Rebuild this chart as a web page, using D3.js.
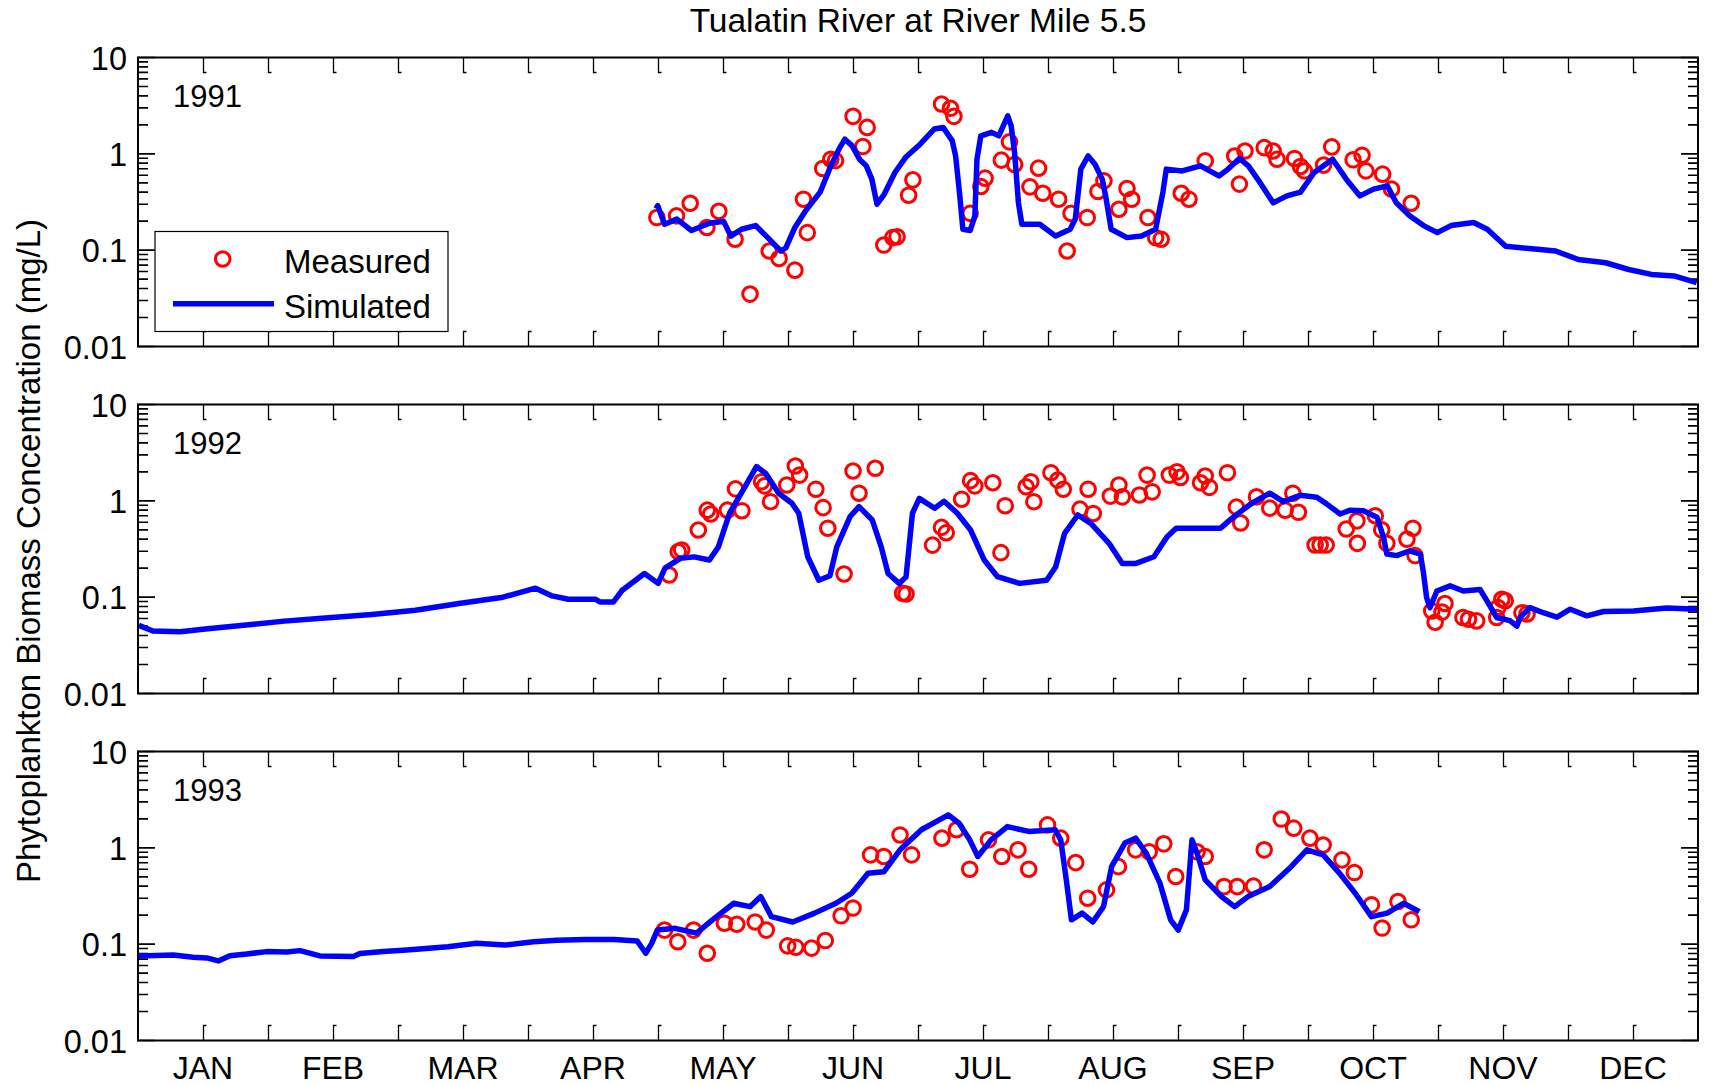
<!DOCTYPE html>
<html>
<head>
<meta charset="utf-8">
<title>Tualatin River at River Mile 5.5</title>
<script src="https://cdn.jsdelivr.net/npm/d3@7"></script>
<style>
  html, body { margin: 0; padding: 0; background: #fff; }
  svg text { font-family: "Liberation Sans", Arial, Helvetica, sans-serif; fill: #000; }
</style>
</head>
<body>
<svg id="chart" width="1714" height="1085"></svg>
<script>
// ---- Data -------------------------------------------------------------
// x values are day of year (0 = Jan 1), y values are phytoplankton biomass in mg/L.

const chartTitle = "Tualatin River at River Mile 5.5";
const yAxisTitle = "Phytoplankton Biomass Concentration (mg/L)";
const monthLabels = ["JAN", "FEB", "MAR", "APR", "MAY", "JUN", "JUL", "AUG", "SEP", "OCT", "NOV", "DEC"];
const yTickValues = [0.01, 0.1, 1, 10];
const yTickLabels = ["0.01", "0.1", "1", "10"];
const yearLabels = ["1991", "1992", "1993"];
const legendLabels = ["Measured", "Simulated"];

const measured1991 = [
  [121.4,0.218],[126.0,0.227],[129.2,0.307],[133.1,0.172],[135.9,0.253],[139.7,0.130],[143.2,0.035],
  [147.7,0.098],[150.0,0.082],[153.7,0.062],[155.7,0.338],[156.6,0.152],[160.2,0.705],[162.1,0.88],
  [163.2,0.85],[167.3,2.45],[170.6,1.88],[169.6,1.19],[174.5,0.113],[176.6,0.135],[177.6,0.138],
  [180.3,0.372],[181.3,0.537],[188.0,3.29],[190.1,2.97],[190.9,2.45],[194.7,0.241],[197.2,0.458],
  [198.2,0.559],[202.0,0.86],[203.9,1.33],[205.1,0.776],[208.7,0.454],[210.7,0.71],[211.7,0.39],
  [215.4,0.338],[217.4,0.098],[218.3,0.241],[222.1,0.218],[224.6,0.407],[226.0,0.524],[229.5,0.266],
  [231.4,0.436],[232.5,0.338],[236.3,0.218],[238.1,0.135],[239.4,0.130],[244.1,0.39],[245.9,0.338],
  [249.7,0.845],[256.6,0.95],[259.0,1.07],[257.7,0.485],[263.5,1.16],[265.6,1.07],[266.5,0.88],
  [270.6,0.895],[272.0,0.74],[272.9,0.665],[277.4,0.764],[279.3,1.18],[284.3,0.867],[286.4,0.968],
  [287.3,0.665],[291.2,0.615],[293.3,0.43],[297.9,0.307]
];

const simulated1991 = [
  [121.2,0.27],[121.6,0.29],[123.2,0.186],[126.1,0.21],[129.5,0.16],[133.7,0.19],[137.0,0.20],
  [138.7,0.14],[141.2,0.165],[144.5,0.18],[147.0,0.14],[150.4,0.098],[151.6,0.106],[153.7,0.172],
  [156.2,0.256],[159.6,0.40],[162.1,0.75],[164.2,1.16],[165.4,1.42],[167.1,1.21],[168.8,0.88],
  [170.4,0.75],[171.7,0.546],[172.9,0.30],[174.6,0.38],[177.1,0.64],[179.6,0.92],[183.0,1.26],
  [186.3,1.81],[188.4,1.88],[190.5,1.37],[191.3,0.95],[192.2,0.40],[193.0,0.165],[194.7,0.16],
  [195.8,0.226],[196.3,0.88],[197.2,1.54],[199.7,1.67],[201.4,1.54],[203.5,2.48],[204.3,1.95],
  [205.1,1.03],[206.0,0.31],[206.8,0.186],[211.0,0.186],[214.7,0.14],[218.1,0.165],[219.3,0.21],
  [220.6,0.694],[222.3,0.95],[223.9,0.78],[225.6,0.546],[226.4,0.366],[227.7,0.165],[231.4,0.135],
  [234.8,0.14],[238.1,0.165],[239.8,0.40],[240.6,0.694],[244.3,0.665],[248.6,0.75],[252.9,0.59],
  [255.0,0.69],[257.7,0.895],[259.8,0.75],[262.5,0.505],[265.6,0.31],[268.8,0.366],[272.0,0.40],
  [275.2,0.64],[279.5,0.88],[282.7,0.546],[285.9,0.366],[289.1,0.43],[292.3,0.465],[294.4,0.31],
  [297.6,0.226],[300.8,0.18],[304.0,0.152],[307.2,0.18],[312.5,0.194],[315.7,0.165],[320.0,0.11],
  [327.4,0.102],[331.7,0.098],[337.0,0.080],[343.4,0.074],[348.8,0.063],[354.1,0.056],[359.4,0.054],
  [364.7,0.046]
];

const measured1992 = [
  [124.3,0.170],[126.4,0.297],[127.2,0.309],[131.1,0.498],[133.2,0.80],[134.0,0.73],[137.9,0.80],
  [139.8,1.33],[141.3,0.79],[145.9,1.58],[146.6,1.43],[148.0,0.98],[151.8,1.46],[153.8,2.30],
  [154.8,1.85],[158.6,1.32],[160.3,0.85],[161.4,0.52],[165.2,0.174],[167.3,2.04],[168.7,1.20],
  [172.5,2.18],[178.9,0.11],[179.7,0.108],[185.9,0.347],[188.0,0.53],[189.1,0.467],[192.7,1.04],
  [194.8,1.62],[195.8,1.43],[200.0,1.54],[201.9,0.29],[202.9,0.89],[207.8,1.40],[208.9,1.58],
  [209.6,0.98],[213.6,1.96],[215.2,1.64],[216.5,1.32],[220.4,0.82],[222.3,1.32],[223.5,0.74],
  [227.5,1.12],[229.5,1.46],[230.3,1.10],[234.3,1.15],[236.1,1.85],[237.3,1.24],[241.3,1.85],
  [243.1,2.0],[243.9,1.75],[248.6,1.54],[249.7,1.81],[250.7,1.38],[254.9,1.96],[257.0,0.86],
  [258.0,0.59],[261.7,1.10],[264.8,0.84],[268.4,0.80],[270.2,1.2],[271.5,0.76],[275.4,0.348],
  [276.6,0.348],[278.0,0.348],[282.7,0.51],[285.2,0.62],[285.3,0.362],[289.5,0.70],[291.0,0.50],
  [292.2,0.362],[296.9,0.40],[298.3,0.52],[298.8,0.27],[302.7,0.072],[303.5,0.055],[305.1,0.07],
  [305.8,0.086],[310.0,0.0615],[311.3,0.059],[313.2,0.0567],[317.9,0.0615],[318.2,0.078],
  [319.1,0.095],[319.9,0.092],[323.8,0.069],[325.0,0.067]
];

const simulated1992 = [
  [0.2,0.051],[3.5,0.0446],[9.9,0.0437],[16.3,0.047],[26.5,0.052],[34.2,0.0564],[44.5,0.061],
  [54.7,0.066],[64.9,0.073],[75.1,0.086],[85.4,0.10],[93.0,0.124],[96.9,0.103],[100.7,0.095],
  [107.1,0.095],[108.1,0.089],[111.2,0.089],[113.3,0.118],[118.5,0.176],[121.7,0.139],[123.3,0.20],
  [126.9,0.253],[130.1,0.262],[133.7,0.243],[135.8,0.333],[138.4,0.743],[141.6,1.30],[144.7,2.27],
  [146.8,1.94],[149.9,1.20],[153.0,0.944],[154.6,0.743],[156.7,0.263],[159.3,0.15],[161.9,0.167],
  [163.5,0.333],[166.6,0.686],[168.7,0.87],[171.8,0.632],[173.9,0.333],[175.5,0.176],[178.1,0.139],
  [179.7,0.162],[181.2,0.743],[182.8,1.06],[186.4,0.838],[188.6,0.99],[191.7,0.743],[194.8,0.498],
  [198.0,0.243],[201.1,0.163],[206.3,0.139],[212.6,0.15],[214.7,0.206],[216.8,0.46],[219.9,0.713],
  [223.0,0.58],[227.2,0.362],[230.3,0.224],[233.5,0.224],[237.7,0.263],[240.8,0.425],[242.9,0.52],
  [248.1,0.52],[253.3,0.52],[256.4,0.686],[260.6,0.944],[264.8,1.20],[268.0,0.98],[271.9,1.14],
  [275.8,1.09],[278.1,0.93],[281.3,0.73],[283.6,0.80],[286.7,0.79],[289.9,0.675],[291.4,0.42],
  [292.2,0.28],[294.5,0.27],[297.6,0.303],[300.0,0.28],[300.7,0.188],[301.5,0.099],[302.3,0.078],
  [303.9,0.116],[307.0,0.131],[310.1,0.116],[314.0,0.12],[315.6,0.092],[317.9,0.0615],[321.0,0.057],
  [322.6,0.05],[323.4,0.062],[325.7,0.078],[328.8,0.069],[332.0,0.062],[335.1,0.075],[339.0,0.064],
  [342.9,0.071],[349.9,0.072],[357.7,0.077],[364.8,0.075]
];

const measured1993 = [
  [123.2,0.14],[126.3,0.106],[130.0,0.14],[133.2,0.0805],[137.2,0.165],[140.1,0.161],[144.4,0.17],
  [147.0,0.14],[152.0,0.096],[153.9,0.093],[157.6,0.091],[160.8,0.109],[164.5,0.197],[167.3,0.237],
  [171.4,0.845],[174.5,0.813],[178.3,1.36],[181.0,0.845],[188.1,1.26],[191.5,1.54],[194.6,0.60],
  [199.0,1.21],[202.1,0.813],[205.9,0.953],[208.4,0.60],[212.8,1.73],[215.9,1.26],[219.4,0.703],
  [222.2,0.30],[226.6,0.366],[229.4,0.638],[233.4,0.953],[236.6,0.91],[240.0,1.1],[242.8,0.504],
  [247.8,0.91],[249.7,0.813],[254.1,0.396],[257.2,0.396],[261.0,0.40],[263.5,0.953],[267.5,1.99],
  [270.4,1.6],[274.2,1.26],[277.3,1.07],[281.7,0.75],[284.6,0.554],[288.6,0.256],[291.1,0.147],
  [294.8,0.277],[297.9,0.179]
];

const simulated1993 = [
  [0.1,0.0755],[8.3,0.077],[12.9,0.073],[16.1,0.072],[18.8,0.067],[21.5,0.076],[25.4,0.079],
  [30.1,0.0837],[34.8,0.083],[37.9,0.0857],[42.6,0.0755],[50.4,0.0745],[51.9,0.080],[57.4,0.084],
  [62.9,0.087],[72.5,0.094],[79.2,0.102],[85.9,0.098],[92.6,0.106],[98.0,0.11],[104.7,0.112],
  [111.4,0.112],[116.8,0.108],[118.8,0.0805],[120.2,0.102],[121.5,0.14],[125.7,0.146],[130.7,0.13],
  [134.4,0.179],[139.4,0.266],[143.2,0.245],[145.7,0.312],[148.2,0.193],[153.2,0.17],[158.3,0.21],
  [163.3,0.266],[167.0,0.338],[170.8,0.546],[174.5,0.564],[178.3,0.953],[183.3,1.54],[189.6,2.2],
  [192.1,1.80],[194.6,1.21],[196.5,0.813],[199.6,1.21],[203.4,1.66],[208.4,1.48],[214.6,1.54],
  [215.9,1.21],[217.2,0.465],[218.4,0.179],[220.9,0.21],[223.4,0.17],[225.9,0.245],[227.8,0.638],
  [230.9,1.12],[233.4,1.26],[235.9,0.88],[239.1,0.43],[241.6,0.179],[243.4,0.14],[245.3,0.227],
  [246.6,1.21],[247.8,0.88],[249.7,0.465],[253.5,0.312],[256.6,0.245],[259.7,0.312],[264.8,0.396],
  [269.8,0.638],[273.5,0.953],[277.3,0.845],[281.1,0.546],[284.8,0.338],[288.6,0.193],[292.3,0.21],
  [296.1,0.266],[299.8,0.218]
];

const panelData = [
  { year: yearLabels[0], measured: measured1991, simulated: simulated1991 },
  { year: yearLabels[1], measured: measured1992, simulated: simulated1992 },
  { year: yearLabels[2], measured: measured1993, simulated: simulated1993 }
];

// ---- Layout -----------------------------------------------------------
const plotLeft = 138, plotRight = 1698;
const panelTops = [57.5, 404.5, 751.5];
const panelHeight = 289;
const red = "#ff0000", blue = "#0000ff";
const lineWidth = 5.5;

const svg = d3.select("#chart");

const x = d3.scaleLinear().domain([0, 365]).range([plotLeft, plotRight]);
const halfMonthTicks = d3.range(1, 24).map(i => i * 365 / 24);
const monthCentres = d3.range(12).map(i => (i + 0.5) * 365 / 12);
const minorY = [];
[0.01, 0.1, 1].forEach(d => { for (let k = 2; k <= 9; k++) minorY.push(d * k); });

// Title
svg.append("text")
  .attr("x", (plotLeft + plotRight) / 2).attr("y", 32)
  .attr("text-anchor", "middle").attr("font-size", 33.5)
  .text(chartTitle);

// Y axis title
svg.append("text")
  .attr("transform", `translate(40, ${(panelTops[0] + panelTops[2] + panelHeight) / 2 + 2}) rotate(-90)`)
  .attr("text-anchor", "middle").attr("font-size", 33)
  .text(yAxisTitle);

panelData.forEach((p, i) => {
  const top = panelTops[i], bottom = top + panelHeight;
  const y = d3.scaleLog().domain([0.01, 10]).range([bottom, top]);
  const g = svg.append("g");

  // half-month ticks along top and bottom, with a short foot
  halfMonthTicks.forEach(t => {
    const tx = Math.round(x(t)) + 0.5;
    g.append("path")
      .attr("d", `M${tx},${top} V${top + 15} h3 M${tx},${bottom} V${bottom - 15} h3`)
      .attr("fill", "none").attr("stroke", "#000").attr("stroke-width", 1.3);
  });

  // log ticks on the left and right edges
  minorY.forEach(v => {
    const ty = y(v);
    g.append("path")
      .attr("d", `M${plotLeft},${ty} h10 M${plotRight},${ty} h-10`)
      .attr("stroke", "#000").attr("stroke-width", 1.6);
  });
  yTickValues.forEach((v, k) => {
    const ty = y(v);
    g.append("path")
      .attr("d", `M${plotLeft},${ty} h17 M${plotRight},${ty} h-17`)
      .attr("stroke", "#000").attr("stroke-width", 1.6);
    g.append("text")
      .attr("x", plotLeft - 11).attr("y", ty + 1)
      .attr("text-anchor", "end").attr("dominant-baseline", "central")
      .attr("font-size", 32.5)
      .text(yTickLabels[k]);
  });

  // measured points
  g.append("g").selectAll("circle").data(p.measured).join("circle")
    .attr("cx", d => x(d[0])).attr("cy", d => y(d[1]))
    .attr("r", 7.3).attr("fill", "none").attr("stroke", red).attr("stroke-width", 3);

  // simulated series
  g.append("path").datum(p.simulated)
    .attr("d", d3.line().x(d => x(d[0])).y(d => y(d[1])))
    .attr("fill", "none").attr("stroke", blue).attr("stroke-width", lineWidth)
    .attr("stroke-linejoin", "round");

  // frame
  g.append("rect")
    .attr("x", plotLeft).attr("y", top)
    .attr("width", plotRight - plotLeft).attr("height", panelHeight)
    .attr("fill", "none").attr("stroke", "#000").attr("stroke-width", 2);

  // year label
  g.append("text")
    .attr("x", plotLeft + 35).attr("y", top + 49)
    .attr("font-size", 31).text(p.year);

  if (i === panelData.length - 1) {
    monthCentres.forEach((m, k) => {
      svg.append("text")
        .attr("x", x(m)).attr("y", 1079)
        .attr("text-anchor", "middle").attr("font-size", 32)
        .text(monthLabels[k]);
    });
  }
});

// Legend (in the 1991 panel)
const lg = svg.append("g");
lg.append("rect").attr("x", 155).attr("y", 231.5).attr("width", 293).attr("height", 100)
  .attr("fill", "#fff").attr("stroke", "#000").attr("stroke-width", 1.2);
lg.append("circle").attr("cx", 222.7).attr("cy", 259).attr("r", 7.3)
  .attr("fill", "none").attr("stroke", red).attr("stroke-width", 3);
lg.append("line").attr("x1", 173).attr("x2", 274).attr("y1", 303.7).attr("y2", 303.7)
  .attr("stroke", blue).attr("stroke-width", lineWidth);
lg.append("text").attr("x", 284).attr("y", 273).attr("font-size", 33).text(legendLabels[0]);
lg.append("text").attr("x", 284).attr("y", 318).attr("font-size", 33).text(legendLabels[1]);
</script>
</body>
</html>
